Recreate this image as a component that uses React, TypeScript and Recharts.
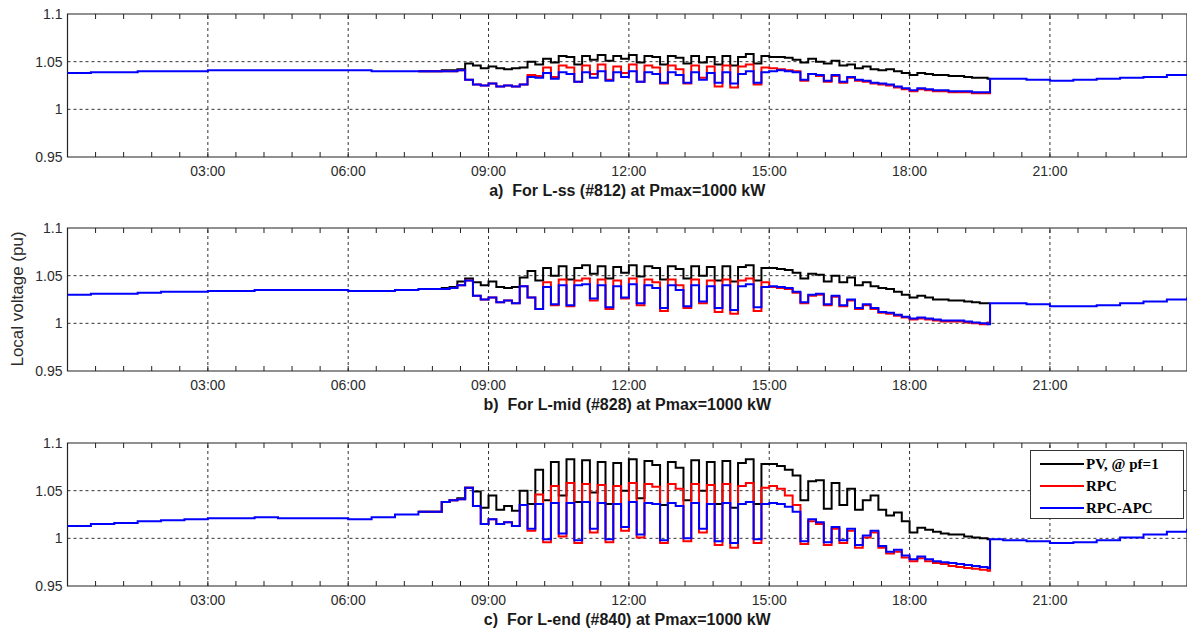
import { LineChart, Line, XAxis, YAxis, ReferenceLine, ReferenceArea } from "recharts"

// time axis (hours)
const nightHours = [0, 0.5, 1, 1.5, 2, 2.5, 3, 3.5, 4, 4.5, 5, 5.5, 6, 6.5, 7, 7.5]
const eveningHours = [19.72, 20, 20.5, 21, 21.5, 22, 22.5, 23, 23.5, 23.93]
const dayStart = 8 // daytime samples every 10 min from 08:00 to 19:40
const majorHours = [3, 6, 9, 12, 15, 18, 21]
const hourLabels = ["03:00", "06:00", "09:00", "12:00", "15:00", "18:00", "21:00"]
const voltTicks = [0.95, 1, 1.05, 1.1]

// a) L-ss (#812)
const nightA = [1.038, 1.039, 1.039, 1.040, 1.040, 1.040, 1.041, 1.041, 1.041, 1.041, 1.041, 1.041, 1.041, 1.040, 1.040, 1.040]
const eveningA = [1.032, 1.032, 1.031, 1.030, 1.031, 1.032, 1.033, 1.034, 1.036, 1.036]
const pvA = [
  1.041, 1.041, 1.042, 1.048, 1.046, 1.043,
  1.045, 1.043, 1.042, 1.043, 1.044, 1.050,
  1.047, 1.053, 1.049, 1.056, 1.055, 1.047,
  1.056, 1.052, 1.057, 1.051, 1.056, 1.053,
  1.057, 1.049, 1.056, 1.055, 1.047, 1.056,
  1.054, 1.048, 1.056, 1.049, 1.055, 1.047,
  1.056, 1.046, 1.055, 1.058, 1.048, 1.056,
  1.055, 1.055, 1.054, 1.052, 1.049, 1.053,
  1.050, 1.048, 1.051, 1.046, 1.047, 1.043,
  1.045, 1.042, 1.041, 1.042, 1.040, 1.038,
  1.036, 1.038, 1.037, 1.036, 1.036, 1.035,
  1.035, 1.034, 1.033, 1.033, 1.032,
]
const rpcA = [
  1.040, 1.040, 1.041, 1.031, 1.026, 1.025,
  1.027, 1.024, 1.025, 1.024, 1.026, 1.036,
  1.035, 1.044, 1.034, 1.046, 1.044, 1.029,
  1.046, 1.037, 1.047, 1.031, 1.045, 1.038,
  1.047, 1.029, 1.046, 1.044, 1.027, 1.046,
  1.042, 1.027, 1.046, 1.033, 1.045, 1.024,
  1.046, 1.023, 1.045, 1.047, 1.026, 1.044,
  1.043, 1.042, 1.041, 1.040, 1.030, 1.037,
  1.035, 1.029, 1.035, 1.028, 1.033, 1.030,
  1.029, 1.027, 1.026, 1.025, 1.023, 1.021,
  1.019, 1.021, 1.020, 1.019, 1.019, 1.018,
  1.018, 1.018, 1.017, 1.017, 1.017,
]
const apcA = [
  1.040, 1.040, 1.041, 1.031, 1.026, 1.025,
  1.027, 1.024, 1.025, 1.024, 1.026, 1.034,
  1.033, 1.038, 1.032, 1.039, 1.037, 1.029,
  1.039, 1.033, 1.040, 1.030, 1.039, 1.034,
  1.040, 1.029, 1.039, 1.037, 1.028, 1.039,
  1.036, 1.028, 1.039, 1.031, 1.038, 1.028,
  1.039, 1.027, 1.037, 1.040, 1.028, 1.039,
  1.040, 1.041, 1.040, 1.039, 1.031, 1.037,
  1.036, 1.030, 1.036, 1.029, 1.034, 1.031,
  1.030, 1.028, 1.027, 1.026, 1.024, 1.022,
  1.020, 1.022, 1.021, 1.020, 1.020, 1.019,
  1.019, 1.019, 1.018, 1.018, 1.018,
]

// b) L-mid (#828)
const nightB = [1.030, 1.031, 1.031, 1.032, 1.033, 1.033, 1.034, 1.034, 1.035, 1.035, 1.035, 1.035, 1.034, 1.034, 1.035, 1.036]
const eveningB = [1.021, 1.021, 1.020, 1.018, 1.018, 1.019, 1.021, 1.023, 1.025, 1.027]
const pvB = [
  1.037, 1.038, 1.044, 1.047, 1.043, 1.040,
  1.044, 1.038, 1.037, 1.038, 1.048, 1.055,
  1.045, 1.058, 1.050, 1.060, 1.046, 1.058,
  1.061, 1.052, 1.060, 1.047, 1.059, 1.053,
  1.061, 1.049, 1.060, 1.058, 1.046, 1.060,
  1.057, 1.047, 1.060, 1.050, 1.059, 1.045,
  1.060, 1.044, 1.059, 1.061, 1.045, 1.058,
  1.058, 1.057, 1.056, 1.053, 1.047, 1.052,
  1.051, 1.044, 1.050, 1.043, 1.048, 1.040,
  1.043, 1.039, 1.037, 1.036, 1.033, 1.030,
  1.027, 1.029, 1.027, 1.025, 1.025, 1.024,
  1.024, 1.023, 1.022, 1.021, 1.021,
]
const rpcB = [
  1.036, 1.037, 1.040, 1.045, 1.029, 1.025,
  1.027, 1.022, 1.024, 1.021, 1.039, 1.027,
  1.015, 1.043, 1.019, 1.046, 1.018, 1.045,
  1.047, 1.024, 1.046, 1.015, 1.045, 1.026,
  1.047, 1.019, 1.046, 1.043, 1.013, 1.046,
  1.040, 1.016, 1.046, 1.021, 1.045, 1.012,
  1.046, 1.010, 1.045, 1.047, 1.013, 1.043,
  1.038, 1.037, 1.036, 1.032, 1.021, 1.029,
  1.030, 1.019, 1.028, 1.018, 1.024, 1.015,
  1.019, 1.015, 1.011, 1.010, 1.008, 1.006,
  1.004, 1.005, 1.004, 1.003, 1.002, 1.002,
  1.002, 1.001, 1.000, 0.999, 1.001,
]
const apcB = [
  1.036, 1.037, 1.040, 1.045, 1.029, 1.025,
  1.027, 1.022, 1.024, 1.021, 1.039, 1.027,
  1.015, 1.038, 1.020, 1.040, 1.019, 1.040,
  1.041, 1.026, 1.040, 1.017, 1.039, 1.027,
  1.041, 1.021, 1.040, 1.037, 1.016, 1.040,
  1.035, 1.018, 1.040, 1.023, 1.039, 1.016,
  1.040, 1.014, 1.039, 1.041, 1.017, 1.038,
  1.039, 1.038, 1.037, 1.033, 1.022, 1.030,
  1.031, 1.020, 1.029, 1.019, 1.025, 1.016,
  1.020, 1.016, 1.012, 1.011, 1.009, 1.007,
  1.005, 1.006, 1.005, 1.004, 1.003, 1.003,
  1.003, 1.002, 1.001, 1.000, 0.999,
]

// c) L-end (#840)
const nightC = [1.013, 1.015, 1.016, 1.018, 1.019, 1.020, 1.021, 1.021, 1.022, 1.021, 1.021, 1.021, 1.020, 1.022, 1.025, 1.028]
const eveningC = [0.999, 0.998, 0.997, 0.995, 0.996, 0.998, 1.001, 1.004, 1.007, 1.010]
const pvC = [
  1.038, 1.040, 1.042, 1.053, 1.049, 1.032,
  1.045, 1.030, 1.034, 1.029, 1.050, 1.036,
  1.072, 1.040, 1.080, 1.045, 1.083, 1.038,
  1.082, 1.048, 1.080, 1.036, 1.079, 1.050,
  1.083, 1.042, 1.081, 1.077, 1.035, 1.080,
  1.074, 1.040, 1.082, 1.050, 1.080, 1.036,
  1.081, 1.032, 1.079, 1.083, 1.036, 1.078,
  1.078, 1.076, 1.072, 1.066, 1.040, 1.060,
  1.061, 1.031, 1.058, 1.035, 1.052, 1.030,
  1.040, 1.045, 1.030, 1.024, 1.027, 1.018,
  1.006, 1.011, 1.009, 1.007, 1.005, 1.004,
  1.004, 1.002, 1.001, 1.000, 0.999,
]
const rpcC = [
  1.038, 1.040, 1.041, 1.053, 1.034, 1.015,
  1.020, 1.015, 1.017, 1.013, 1.035, 1.008,
  1.046, 0.996, 1.055, 1.002, 1.058, 0.995,
  1.057, 1.006, 1.056, 0.996, 1.055, 1.008,
  1.058, 1.001, 1.057, 1.054, 0.995, 1.057,
  1.052, 0.997, 1.057, 1.006, 1.056, 0.993,
  1.057, 0.990, 1.055, 1.058, 0.995, 1.053,
  1.055, 1.052, 1.045, 1.035, 0.994, 1.018,
  1.015, 0.993, 1.010, 0.995, 1.008, 0.990,
  1.001, 1.006, 0.990, 0.984, 0.986, 0.980,
  0.976, 0.979, 0.976, 0.974, 0.973, 0.971,
  0.970, 0.969, 0.968, 0.967, 0.966,
]
const apcC = [
  1.038, 1.040, 1.041, 1.053, 1.034, 1.015,
  1.020, 1.015, 1.017, 1.013, 1.035, 1.010,
  1.036, 0.999, 1.037, 1.005, 1.037, 0.998,
  1.038, 1.010, 1.037, 0.999, 1.036, 1.012,
  1.038, 1.004, 1.037, 1.036, 0.998, 1.037,
  1.034, 1.000, 1.037, 1.010, 1.036, 0.997,
  1.037, 0.995, 1.036, 1.038, 0.999, 1.036,
  1.037, 1.036, 1.033, 1.028, 0.997, 1.020,
  1.017, 0.996, 1.012, 0.998, 1.010, 0.993,
  1.003, 1.008, 0.992, 0.986, 0.988, 0.982,
  0.978, 0.981, 0.978, 0.976, 0.975, 0.974,
  0.973, 0.972, 0.971, 0.970, 0.969,
]

const seriesNames = ["PV, @ pf=1", "RPC", "RPC-APC"]
const seriesColors = ["#000000", "#ff0000", "#0000ff"]

const FONT = "'Liberation Sans', Arial, sans-serif"
const TXT = "#2b2b2b"
const X_MAX = 23.93

const minorTicks: number[] = []
for (let i = 0; i < 40; i++) minorTicks.push(Math.round(i * 0.6 * 100) / 100)

function hourLabel(v: number) {
  const k = majorHours.findIndex((h) => Math.abs(h - v) < 1e-6)
  return k >= 0 ? hourLabels[k] : ""
}

type Row = { t: number; pv: number | null; rpc: number | null; apc: number }

// at night all three cases coincide: only the blue trace is drawn there
function buildRows(night: number[], pv: number[], rpc: number[], apc: number[], evening: number[]) {
  const rows: Row[] = []
  const lastNight = nightHours.length - 1
  nightHours.forEach((t, i) => {
    const v = night[i]
    rows.push({ t, pv: i === lastNight ? v : null, rpc: i === lastNight ? v : null, apc: v })
  })
  pv.forEach((v, i) => rows.push({ t: dayStart + i / 6, pv: v, rpc: rpc[i], apc: apc[i] }))
  eveningHours.forEach((t, i) => {
    const v = evening[i]
    rows.push({ t, pv: i === 0 ? v : null, rpc: i === 0 ? v : null, apc: v })
  })
  return rows
}

const panels = [
  { title: "a)  For L-ss (#812) at Pmax=1000 kW", rows: buildRows(nightA, pvA, rpcA, apcA, eveningA) },
  { title: "b)  For L-mid (#828) at Pmax=1000 kW", rows: buildRows(nightB, pvB, rpcB, apcB, eveningB) },
  { title: "c)  For L-end (#840) at Pmax=1000 kW", rows: buildRows(nightC, pvC, rpcC, apcC, eveningC) },
]

const PANEL_H = 214

function Panel({ rows, title, top }: any) {
  return (
    <div style={{ position: "absolute", left: 0, top, width: 1187, height: PANEL_H }}>
      <LineChart width={1187} height={PANEL_H} data={rows} margin={{ top: 4, right: 0, bottom: 0, left: 7.5 }}>
        <XAxis
          xAxisId="top"
          orientation="top"
          dataKey="t"
          type="number"
          domain={[0, X_MAX]}
          ticks={minorTicks}
          interval={0}
          height={10}
          tickSize={-5}
          axisLine={false}
          tickLine={{ stroke: "#222" }}
          tickFormatter={() => ""}
          allowDataOverflow
        />
        <XAxis
          dataKey="t"
          type="number"
          domain={[0, X_MAX]}
          ticks={minorTicks}
          interval={0}
          height={57}
          tickSize={-5}
          tickMargin={14}
          axisLine={false}
          tickLine={{ stroke: "#222" }}
          tick={{ fill: TXT, fontSize: 14, fontFamily: FONT }}
          tickFormatter={hourLabel}
          allowDataOverflow
        />
        <YAxis
          domain={[0.95, 1.1]}
          ticks={voltTicks}
          width={60}
          tickSize={0}
          tickMargin={5}
          axisLine={false}
          tickLine={false}
          tick={{ fill: TXT, fontSize: 14, fontFamily: FONT }}
          tickFormatter={(v: any) => String(v)}
          allowDataOverflow
        />
        {majorHours.map((h) => (
          <ReferenceLine key={h} x={h} stroke="#333" strokeDasharray="3 3" />
        ))}
        <ReferenceLine y={1} stroke="#333" strokeDasharray="3 3" />
        <ReferenceLine y={1.05} stroke="#333" strokeDasharray="3 3" />
        <Line type="stepAfter" dataKey="pv" stroke={seriesColors[0]} strokeWidth={2} dot={false} isAnimationActive={false} />
        <Line type="stepAfter" dataKey="rpc" stroke={seriesColors[1]} strokeWidth={2} dot={false} isAnimationActive={false} />
        <Line type="stepAfter" dataKey="apc" stroke={seriesColors[2]} strokeWidth={2} dot={false} isAnimationActive={false} />
        <ReferenceArea x1={0} x2={X_MAX} y1={0.95} y2={1.1} fill="none" fillOpacity={0} stroke="#222" strokeWidth={1.2} ifOverflow="visible" />
      </LineChart>
      <div
        style={{
          position: "absolute",
          left: 67.5,
          width: 1119.5,
          top: 182,
          lineHeight: "18px",
          textAlign: "center",
          fontFamily: FONT,
          fontWeight: "bold",
          fontSize: 16,
          color: "#1a1a1a",
          whiteSpace: "pre",
        }}
      >
        {title}
      </div>
    </div>
  )
}

function Legend() {
  return (
    <div
      style={{
        position: "absolute",
        left: 1030,
        top: 450,
        width: 152,
        height: 67,
        border: "1.5px solid #333",
        background: "#fff",
      }}
    >
      {seriesNames.map((name, i) => (
        <div key={name} style={{ position: "absolute", left: 0, top: 3 + i * 22, height: 20, width: 152 }}>
          <svg width={46} height={20} style={{ position: "absolute", left: 9, top: 0 }}>
            <line x1={0} y1={10} x2={44} y2={10} stroke={seriesColors[i]} strokeWidth={2} />
          </svg>
          <span
            style={{
              position: "absolute",
              left: 55,
              top: 0,
              lineHeight: "20px",
              fontFamily: "'Liberation Serif', 'Times New Roman', serif",
              fontWeight: "bold",
              fontSize: 15,
              color: "#000",
              whiteSpace: "nowrap",
            }}
          >
            {name}
          </span>
        </div>
      ))}
    </div>
  )
}

export default function App() {
  return (
    <div style={{ position: "absolute", left: 0, top: 0, width: 1187, height: 632, background: "#fff", overflow: "hidden" }}>
      {panels.map((p, i) => (
        <Panel key={p.title} rows={p.rows} title={p.title} top={i * PANEL_H + (i === 2 ? 1 : 0)} />
      ))}
      <div
        style={{
          position: "absolute",
          left: 17.5,
          top: 299,
          transform: "translate(-50%, -50%) rotate(-90deg)",
          fontFamily: FONT,
          fontSize: 17,
          color: TXT,
          whiteSpace: "nowrap",
        }}
      >
        Local voltage (pu)
      </div>
      <Legend />
    </div>
  )
}
